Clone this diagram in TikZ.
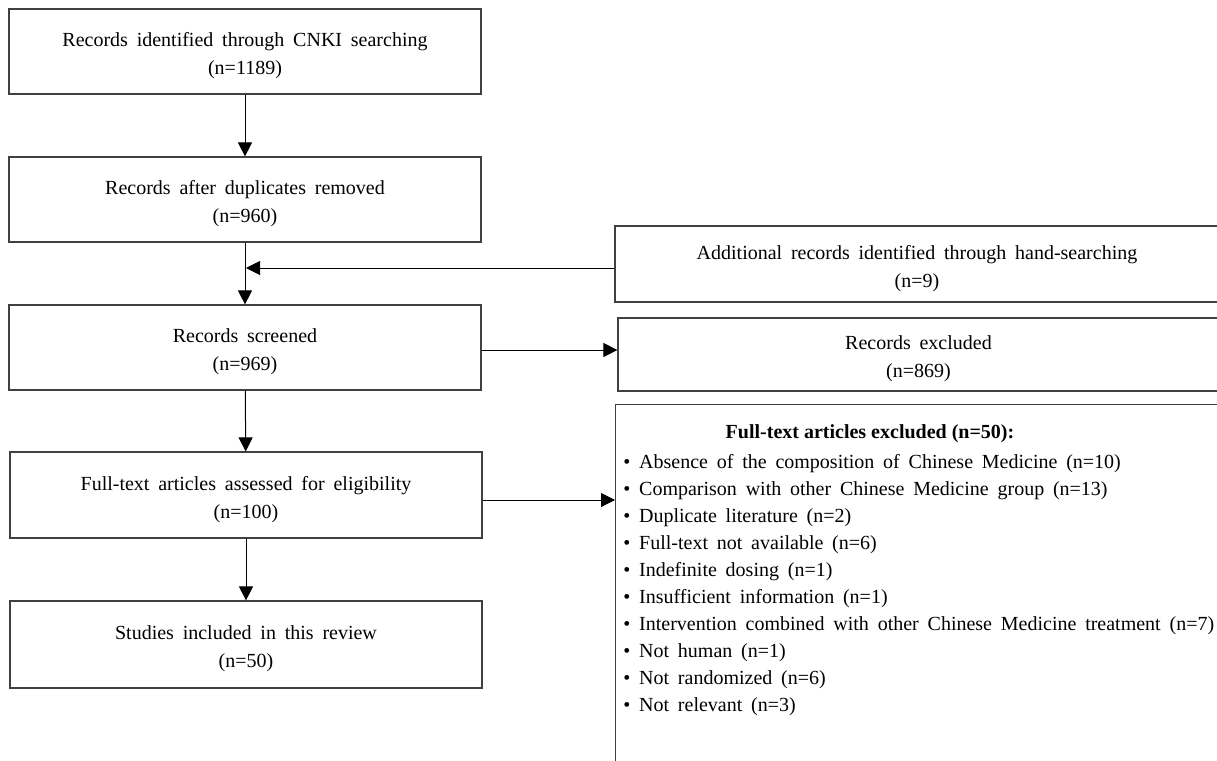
\documentclass[tikz,border=0pt]{standalone}
\usepackage{fontspec}
\setmainfont{Liberation Serif}
\usetikzlibrary{arrows.meta}
\newcommand\boxstrut{\rule{0pt}{11.5pt}}

\begin{document}
\begin{tikzpicture}[x=0.5pt,y=-0.5pt,
        box/.style={draw=black!75,line width=0.6pt,align=center,inner sep=0pt,
            font={\fontsize{10}{14}\selectfont\spaceskip=4.4pt\relax}},
        flow/.style={-{Triangle[length=7pt,width=7pt]},line width=0.5pt},
        item/.style={anchor=base west,inner sep=0pt,font={\fontsize{10}{12}\selectfont\spaceskip=4.4pt\relax}}]
    \clip (0,0) rectangle (1217,761);
    % main column
    \node[box,minimum width=236pt,minimum height=42.5pt] (ident) at (245,51.5) {\boxstrut Records identified through CNKI searching\\(n=1189)};
    \node[box,minimum width=236pt,minimum height=42.5pt] (dupl) at (245,199.5) {\boxstrut Records after duplicates removed\\(n=960)};
    \node[box,minimum width=236pt,minimum height=42.5pt] (screen) at (245,347.5) {\boxstrut Records screened\\(n=969)};
    \node[box,minimum width=236pt,minimum height=43pt] (elig) at (246,495) {\boxstrut Full-text articles assessed for eligibility\\(n=100)};
    \node[box,minimum width=236pt,minimum height=43.5pt] (incl) at (246,644.5) {\boxstrut Studies included in this review\\(n=50)};
    % right column
    \node[box,minimum width=302pt,minimum height=38pt] (hand) at (917,264) {\boxstrut Additional records identified through hand-searching\\(n=9)};
    \node[box,minimum width=300.5pt,minimum height=36.5pt] (excl) at (918.5,354.5) {\boxstrut Records excluded\\(n=869)};
    \node[box,anchor=north west,minimum width=302pt,minimum height=200pt] (ftex) at (615,404) {};
    \node[anchor=base,inner sep=0pt,font=\fontsize{10}{12}\selectfont\bfseries] (fttitle) at (870,438) {Full-text articles excluded (n=50):};
    \foreach \txt [count=\i] in {{Absence of the composition of Chinese Medicine (n=10)},
            {Comparison with other Chinese Medicine group (n=13)},
            {Duplicate literature (n=2)},
            {Full-text not available (n=6)},
            {Indefinite dosing (n=1)},
            {Insufficient information (n=1)},
            {Intervention combined with other Chinese Medicine treatment (n=7)},
            {Not human (n=1)},
            {Not randomized (n=6)},
            {Not relevant (n=3)}}
        \node[item] (ex\i) at (623,{468+27*(\i-1)}) {\textbullet\ \txt};
    % connectors
    \coordinate (join) at (246,268);
    \draw[flow] (ident) -- (dupl);
    \draw[flow] (dupl) -- (screen);
    \draw[flow] (hand.west |- join) -- (join);
    \draw[flow] (screen) -- (elig);
    \draw[flow] (elig) -- (incl);
    \draw[flow] ([yshift=-1.25pt]screen.east) -- ([yshift=-1.25pt]screen.east -| excl.west);
    \draw[flow] ([yshift=-2.5pt]elig.east) -- ([yshift=-2.5pt]elig.east -| ftex.west);
\end{tikzpicture}
\end{document}
